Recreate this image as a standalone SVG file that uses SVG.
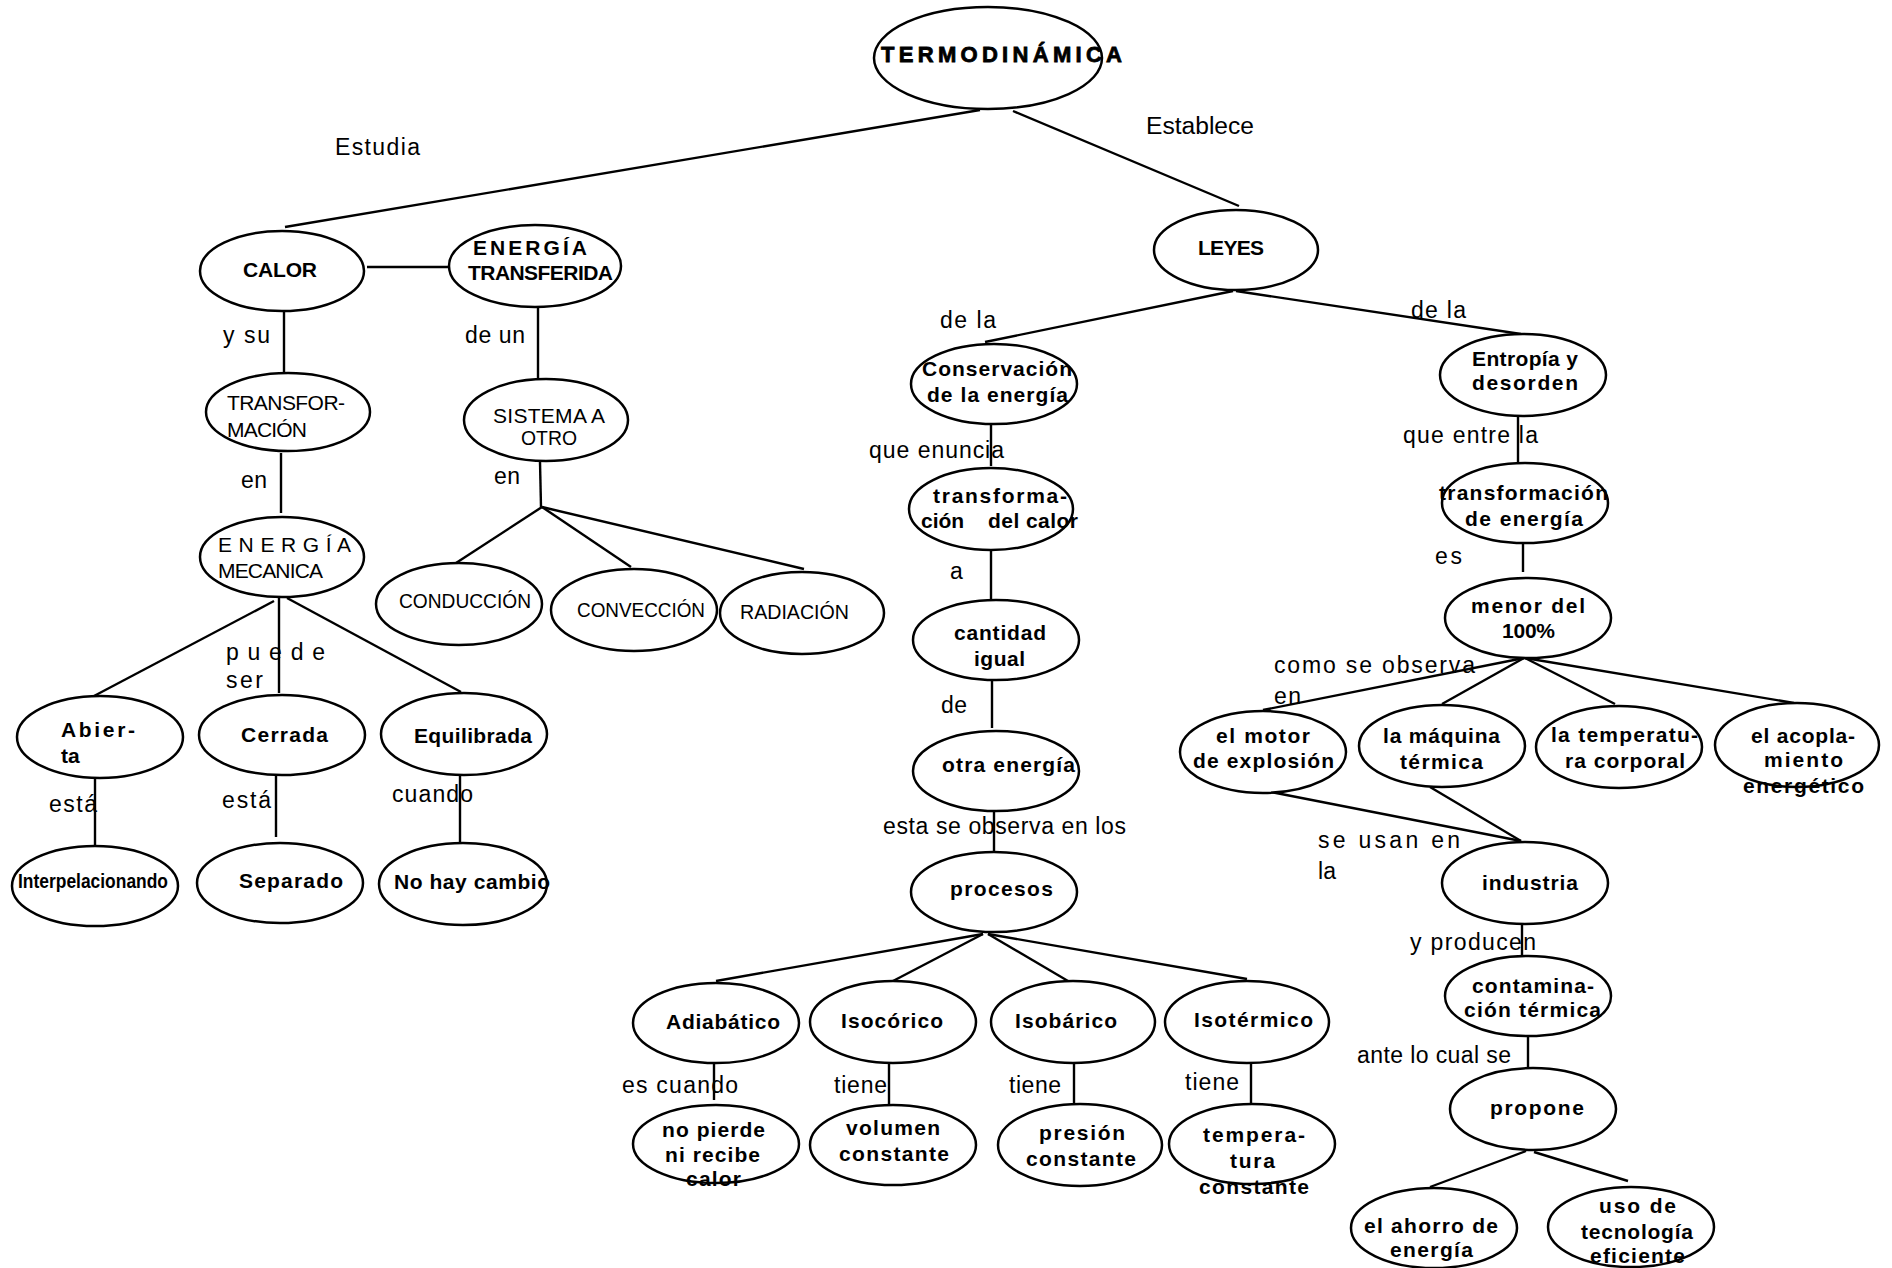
<svg xmlns="http://www.w3.org/2000/svg" width="1892" height="1268" viewBox="0 0 1892 1268">
<style>
  ellipse { fill: #ffffff; stroke: #000000; stroke-width: 2.5; }
  #connectors line { stroke: #000000; stroke-width: 2.4; stroke-linecap: butt; }
  text { font-family: "Liberation Sans", Arial, sans-serif; fill: #000000; }
  .b { font-size: 21px; font-weight: bold; }
  .t { font-size: 22px; font-weight: bold; stroke: #000; stroke-width: 0.8; }
  .r { font-size: 21px; }
  .l { font-size: 23px; }
</style>
<rect x="0" y="0" width="1892" height="1268" fill="#ffffff"/>

<g id="connectors">
  <line x1="980" y1="110" x2="285" y2="227"/>
  <line x1="1013" y1="111" x2="1239" y2="206"/>
  <line x1="367" y1="267" x2="450" y2="267"/>
  <line x1="284" y1="307" x2="284" y2="373"/>
  <line x1="538" y1="307" x2="538" y2="378"/>
  <line x1="281" y1="453" x2="281" y2="513"/>
  <line x1="540" y1="462" x2="541" y2="507"/>
  <line x1="542" y1="507" x2="456" y2="563"/>
  <line x1="542" y1="507" x2="631" y2="567"/>
  <line x1="542" y1="507" x2="804" y2="569"/>
  <line x1="274" y1="601" x2="94" y2="696"/>
  <line x1="279" y1="595" x2="279" y2="693"/>
  <line x1="287" y1="598" x2="461" y2="692"/>
  <line x1="95" y1="778" x2="95" y2="847"/>
  <line x1="276" y1="775" x2="276" y2="837"/>
  <line x1="460" y1="775" x2="460" y2="842"/>
  <line x1="1233" y1="291" x2="985" y2="342"/>
  <line x1="1236" y1="291" x2="1521" y2="334"/>
  <line x1="991" y1="422" x2="991" y2="466"/>
  <line x1="991" y1="550" x2="991" y2="600"/>
  <line x1="992" y1="679" x2="992" y2="728"/>
  <line x1="994" y1="812" x2="994" y2="853"/>
  <line x1="983" y1="934" x2="716" y2="981"/>
  <line x1="983" y1="934" x2="893" y2="981"/>
  <line x1="988" y1="934" x2="1068" y2="981"/>
  <line x1="988" y1="934" x2="1247" y2="979"/>
  <line x1="714" y1="1063" x2="714" y2="1100"/>
  <line x1="889" y1="1063" x2="889" y2="1104"/>
  <line x1="1074" y1="1063" x2="1074" y2="1104"/>
  <line x1="1251" y1="1063" x2="1251" y2="1104"/>
  <line x1="1518" y1="416" x2="1518" y2="462"/>
  <line x1="1523" y1="544" x2="1523" y2="572"/>
  <line x1="1524" y1="658" x2="1263" y2="710"/>
  <line x1="1524" y1="658" x2="1442" y2="704"/>
  <line x1="1525" y1="658" x2="1615" y2="704"/>
  <line x1="1525" y1="658" x2="1794" y2="703"/>
  <line x1="1271" y1="792" x2="1521" y2="841"/>
  <line x1="1430" y1="787" x2="1521" y2="841"/>
  <line x1="1522" y1="924" x2="1522" y2="956"/>
  <line x1="1528" y1="1037" x2="1528" y2="1069"/>
  <line x1="1526" y1="1151" x2="1430" y2="1187"/>
  <line x1="1534" y1="1152" x2="1628" y2="1181"/>
</g>

<g id="labels">
  <text class="l" x="335" y="155" textLength="85">Estudia</text>
  <text class="l" x="1146" y="134" textLength="108" lengthAdjust="spacingAndGlyphs">Establece</text>
  <text class="l" x="223" y="343" textLength="47">y su</text>
  <text class="l" x="465" y="343" textLength="60">de un</text>
  <text class="l" x="241" y="488" textLength="26">en</text>
  <text class="l" x="494" y="484" textLength="26">en</text>
  <text class="l" x="226" y="660" textLength="99">p u e d e</text>
  <text class="l" x="226" y="688" textLength="37">ser</text>
  <text class="l" x="49" y="812" textLength="48">está</text>
  <text class="l" x="222" y="808" textLength="49">está</text>
  <text class="l" x="392" y="802" textLength="81">cuando</text>
  <text class="l" x="940" y="328" textLength="56">de la</text>
  <text class="l" x="1411" y="318" textLength="55">de la</text>
  <text class="l" x="869" y="458" textLength="135">que  enuncia</text>
  <text class="l" x="950" y="579" textLength="13">a</text>
  <text class="l" x="941" y="713" textLength="26">de</text>
  <text class="l" x="883" y="834" textLength="243">esta se observa en los</text>
  <text class="l" x="622" y="1093" textLength="116">es  cuando</text>
  <text class="l" x="834" y="1093" textLength="53">tiene</text>
  <text class="l" x="1009" y="1093" textLength="52">tiene</text>
  <text class="l" x="1185" y="1090" textLength="54">tiene</text>
  <text class="l" x="1403" y="443" textLength="135">que entre la</text>
  <text class="l" x="1435" y="564" textLength="27">es</text>
  <text class="l" x="1274" y="673" textLength="201">como se observa</text>
  <text class="l" x="1274" y="704" textLength="27">en</text>
  <text class="l" x="1318" y="848" textLength="142">se  usan  en</text>
  <text class="l" x="1318" y="879" textLength="18">la</text>
  <text class="l" x="1410" y="950" textLength="126">y producen</text>
  <text class="l" x="1357" y="1063" textLength="154">ante lo cual se</text>
</g>

<g id="n-termodinamica"><ellipse cx="988" cy="58" rx="114" ry="51"/><text class="t" x="881" y="62" textLength="241">TERMODINÁMICA</text></g>
<g id="n-calor"><ellipse cx="282" cy="271" rx="82" ry="40"/><text class="b" x="243" y="277" textLength="74">CALOR</text></g>
<g id="n-energia-transferida"><ellipse cx="535" cy="266" rx="86" ry="41"/><text class="b" x="473" y="255" textLength="114">ENERGÍA</text><text class="b" x="468" y="280" textLength="145">TRANSFERIDA</text></g>
<g id="n-leyes"><ellipse cx="1236" cy="250" rx="82" ry="40"/><text class="b" x="1198" y="255" textLength="66">LEYES</text></g>
<g id="n-transformacion"><ellipse cx="288" cy="412" rx="82" ry="39"/><text class="r" x="227" y="410" textLength="118">TRANSFOR-</text><text class="r" x="227" y="437" textLength="80">MACIÓN</text></g>
<g id="n-sistema"><ellipse cx="546" cy="420" rx="82" ry="41"/><text class="r" x="493" y="423" textLength="112">SISTEMA A</text><text class="r" x="521" y="445" textLength="56" lengthAdjust="spacingAndGlyphs">OTRO</text></g>
<g id="n-energia-mecanica"><ellipse cx="282" cy="557" rx="82" ry="40"/><text class="r" x="218" y="552" textLength="133">E N E R G Í A</text><text class="r" x="218" y="578" textLength="105">MECANICA</text></g>
<g id="n-conduccion"><ellipse cx="459" cy="604" rx="83" ry="41"/><text class="r" x="399" y="608" textLength="132" lengthAdjust="spacingAndGlyphs">CONDUCCIÓN</text></g>
<g id="n-conveccion"><ellipse cx="634" cy="610" rx="83" ry="41"/><text class="r" x="577" y="617" textLength="128" lengthAdjust="spacingAndGlyphs">CONVECCIÓN</text></g>
<g id="n-radiacion"><ellipse cx="802" cy="613" rx="82" ry="41"/><text class="r" x="740" y="619" textLength="109" lengthAdjust="spacingAndGlyphs">RADIACIÓN</text></g>
<g id="n-abierta"><ellipse cx="100" cy="737" rx="83" ry="41"/><text class="b" x="61" y="737" textLength="74">Abier-</text><text class="b" x="61" y="763">ta</text></g>
<g id="n-cerrada"><ellipse cx="282" cy="735" rx="83" ry="40"/><text class="b" x="241" y="742" textLength="87">Cerrada</text></g>
<g id="n-equilibrada"><ellipse cx="464" cy="734" rx="83" ry="41"/><text class="b" x="414" y="743" textLength="118">Equilibrada</text></g>
<g id="n-interpelacionando"><ellipse cx="95" cy="886" rx="83" ry="40"/><text class="b" x="18" y="888" textLength="150" lengthAdjust="spacingAndGlyphs">Interpelacionando</text></g>
<g id="n-separado"><ellipse cx="280" cy="883" rx="83" ry="40"/><text class="b" x="239" y="888" textLength="104">Separado</text></g>
<g id="n-no-hay-cambio"><ellipse cx="463" cy="884" rx="84" ry="41"/><text class="b" x="394" y="889" textLength="156">No hay cambio</text></g>
<g id="n-conservacion"><ellipse cx="994" cy="384" rx="83" ry="40"/><text class="b" x="922" y="376" textLength="150">Conservación</text><text class="b" x="927" y="402" textLength="141">de la energía</text></g>
<g id="n-transformacion-calor"><ellipse cx="991" cy="509" rx="82" ry="41"/><text class="b" x="933" y="503" textLength="134">transforma-</text><text class="b" y="528"><tspan x="921" textLength="43">ción</tspan><tspan x="988" textLength="90">del calor</tspan></text></g>
<g id="n-cantidad"><ellipse cx="996" cy="640" rx="83" ry="40"/><text class="b" x="954" y="640" textLength="92">cantidad</text><text class="b" x="974" y="666" textLength="51">igual</text></g>
<g id="n-otra-energia"><ellipse cx="996" cy="771" rx="83" ry="40"/><text class="b" x="942" y="772" textLength="133">otra energía</text></g>
<g id="n-procesos"><ellipse cx="994" cy="892" rx="83" ry="40"/><text class="b" x="950" y="896" textLength="103">procesos</text></g>
<g id="n-adiabatico"><ellipse cx="716" cy="1023" rx="83" ry="40"/><text class="b" x="666" y="1029" textLength="114">Adiabático</text></g>
<g id="n-isocorico"><ellipse cx="893" cy="1022" rx="83" ry="41"/><text class="b" x="841" y="1028" textLength="102">Isocórico</text></g>
<g id="n-isobarico"><ellipse cx="1073" cy="1022" rx="82" ry="41"/><text class="b" x="1015" y="1028" textLength="102">Isobárico</text></g>
<g id="n-isotermico"><ellipse cx="1247" cy="1022" rx="82" ry="41"/><text class="b" x="1194" y="1027" textLength="119">Isotérmico</text></g>
<g id="n-no-pierde"><ellipse cx="716" cy="1144" rx="83" ry="39"/><text class="b" x="662" y="1137" textLength="103">no pierde</text><text class="b" x="665" y="1162" textLength="95">ni recibe</text><text class="b" x="686" y="1186" textLength="55">calor</text></g>
<g id="n-volumen"><ellipse cx="893" cy="1145" rx="83" ry="40"/><text class="b" x="846" y="1135" textLength="94">volumen</text><text class="b" x="839" y="1161" textLength="110">constante</text></g>
<g id="n-presion"><ellipse cx="1080" cy="1145" rx="82" ry="41"/><text class="b" x="1039" y="1140" textLength="86">presión</text><text class="b" x="1026" y="1166" textLength="110">constante</text></g>
<g id="n-temperatura-constante"><ellipse cx="1252" cy="1144" rx="83" ry="40"/><text class="b" x="1203" y="1142" textLength="102">tempera-</text><text class="b" x="1230" y="1168" textLength="45">tura</text><text class="b" x="1199" y="1194" textLength="110">constante</text></g>
<g id="n-entropia"><ellipse cx="1523" cy="375" rx="83" ry="41"/><text class="b" x="1472" y="366" textLength="106">Entropía y</text><text class="b" x="1472" y="390" textLength="106">desorden</text></g>
<g id="n-transformacion-energia"><ellipse cx="1525" cy="503" rx="83" ry="40"/><text class="b" x="1439" y="500" textLength="169">transformación</text><text class="b" x="1465" y="526" textLength="118">de energía</text></g>
<g id="n-menor"><ellipse cx="1528" cy="618" rx="83" ry="40"/><text class="b" x="1471" y="613" textLength="114">menor del</text><text class="b" x="1502" y="638" textLength="53">100%</text></g>
<g id="n-motor"><ellipse cx="1263" cy="752" rx="83" ry="41"/><text class="b" x="1216" y="743" textLength="94">el motor</text><text class="b" x="1193" y="768" textLength="141">de explosión</text></g>
<g id="n-maquina"><ellipse cx="1442" cy="746" rx="83" ry="41"/><text class="b" x="1383" y="743" textLength="117">la máquina</text><text class="b" x="1400" y="769" textLength="83">térmica</text></g>
<g id="n-temperatura-corporal"><ellipse cx="1619" cy="747" rx="83" ry="41"/><text class="b" x="1551" y="742" textLength="147">la temperatu-</text><text class="b" x="1565" y="768" textLength="120">ra corporal</text></g>
<g id="n-acoplamiento"><ellipse cx="1797" cy="745" rx="82" ry="42"/><text class="b" x="1751" y="743" textLength="104">el acopla-</text><text class="b" x="1764" y="767" textLength="79">miento</text><text class="b" x="1743" y="793" textLength="121">energético</text></g>
<g id="n-industria"><ellipse cx="1525" cy="883" rx="83" ry="41"/><text class="b" x="1482" y="890" textLength="96">industria</text></g>
<g id="n-contaminacion"><ellipse cx="1528" cy="996" rx="83" ry="40"/><text class="b" x="1472" y="993" textLength="122">contamina-</text><text class="b" x="1464" y="1017" textLength="137">ción térmica</text></g>
<g id="n-propone"><ellipse cx="1533" cy="1109" rx="83" ry="41"/><text class="b" x="1490" y="1115" textLength="94">propone</text></g>
<g id="n-ahorro"><ellipse cx="1434" cy="1228" rx="83" ry="40"/><text class="b" x="1364" y="1233" textLength="134">el ahorro de</text><text class="b" x="1390" y="1257" textLength="83">energía</text></g>
<g id="n-tecnologia"><ellipse cx="1631" cy="1227" rx="83" ry="40"/><text class="b" x="1599" y="1213" textLength="77">uso de</text><text class="b" x="1581" y="1239" textLength="112">tecnología</text><text class="b" x="1590" y="1263" textLength="95">eficiente</text></g>
</svg>
